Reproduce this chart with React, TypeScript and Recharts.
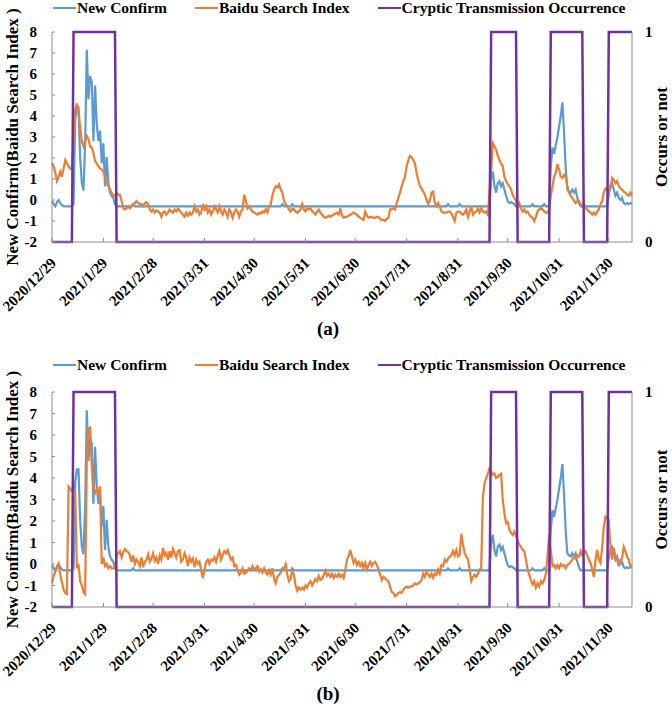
import React from 'react';
import { LineChart, Line, XAxis, YAxis, Legend } from 'recharts';

// x positions are days counted from 2020/12/29
const tickDays = [0, 31, 61, 92, 122, 153, 183, 214, 245, 275, 306, 336];
const tickLabels = [
  '2020/12/29', '2021/1/29', '2021/2/28', '2021/3/31', '2021/4/30', '2021/5/31',
  '2021/6/30', '2021/7/31', '2021/8/31', '2021/9/30', '2021/10/31', '2021/11/30',
];

const seriesNames = ['New Confirm', 'Baidu Search Index', 'Cryptic Transmission Occurrence'];

// daily standardised values, day 0 .. 350
const newConfirm = [
  -0.05, -0.2, -0.3, -0.1, 0, -0.15, -0.25, -0.3, -0.3, -0.3,
  -0.3, -0.3, -0.3, -0.2, 3.8, 4.4, 4.4, 2, 0.8, 0.45,
  2.7, 7.15, 4.8, 5.9, 5.6, 2.8, 5.45, 3.6, 2.8, 3.3,
  1.75, 2.7, 0.65, 2.05, 0.8, 0.35, 0.2, 0.1, -0.2, -0.3,
  -0.3, -0.3, -0.3, -0.3, -0.3, -0.3, -0.3, -0.3, -0.3, -0.2,
  -0.3, -0.3, -0.3, -0.3, -0.3, -0.3, -0.3, -0.3, -0.3, -0.3,
  -0.3, -0.3, -0.3, -0.3, -0.3, -0.3, -0.3, -0.3, -0.3, -0.3,
  -0.3, -0.3, -0.3, -0.3, -0.3, -0.3, -0.3, -0.3, -0.3, -0.3,
  -0.3, -0.3, -0.3, -0.3, -0.3, -0.3, -0.3, -0.3, -0.3, -0.3,
  -0.3, -0.3, -0.3, -0.3, -0.3, -0.3, -0.3, -0.3, -0.3, -0.3,
  -0.3, -0.3, -0.3, -0.3, -0.3, -0.3, -0.3, -0.3, -0.3, -0.3,
  -0.3, -0.3, -0.3, -0.3, -0.3, -0.3, -0.3, -0.3, -0.3, -0.3,
  -0.3, -0.3, -0.3, -0.3, -0.3, -0.3, -0.3, -0.3, -0.3, -0.3,
  -0.3, -0.3, -0.3, -0.3, -0.3, -0.3, -0.3, -0.3, -0.3, -0.2,
  -0.3, -0.3, -0.3, -0.3, -0.3, -0.2, -0.3, -0.3, -0.3, -0.3,
  -0.3, -0.3, -0.3, -0.3, -0.3, -0.3, -0.3, -0.3, -0.3, -0.3,
  -0.3, -0.3, -0.3, -0.3, -0.3, -0.3, -0.3, -0.3, -0.3, -0.3,
  -0.3, -0.3, -0.3, -0.3, -0.3, -0.3, -0.3, -0.3, -0.3, -0.3,
  -0.3, -0.3, -0.3, -0.3, -0.3, -0.3, -0.3, -0.3, -0.3, -0.3,
  -0.3, -0.3, -0.3, -0.3, -0.3, -0.3, -0.3, -0.3, -0.3, -0.3,
  -0.3, -0.3, -0.3, -0.3, -0.3, -0.3, -0.3, -0.3, -0.3, -0.3,
  -0.3, -0.3, -0.3, -0.3, -0.3, -0.3, -0.3, -0.3, -0.3, -0.3,
  -0.3, -0.3, -0.3, -0.3, -0.3, -0.3, -0.3, -0.3, -0.3, -0.3,
  -0.3, -0.3, -0.3, -0.3, -0.3, -0.3, -0.3, -0.3, -0.3, -0.2,
  -0.3, -0.3, -0.3, -0.3, -0.3, -0.3, -0.2, -0.3, -0.3, -0.3,
  -0.3, -0.3, -0.3, -0.3, -0.3, -0.3, -0.3, -0.3, -0.3, -0.3,
  -0.3, -0.3, -0.3, -0.3, -0.3, 1, 1.35, 0.65, 0.35, 0.8,
  0.9, 0.65, 0.8, 0.5, 0.2, -0.05, -0.15, -0.1, -0.15, -0.2,
  -0.3, -0.3, -0.3, -0.3, -0.3, -0.3, -0.3, -0.3, -0.3, -0.3,
  -0.2, -0.3, -0.3, -0.3, -0.3, -0.3, -0.3, -0.2, -0.3, -0.3,
  -0.3, 1.6, 2.5, 2.2, 2.6, 3, 3.5, 4, 4.65, 3.2,
  1.5, 0.5, 0.4, 0.35, 0.5, 0.35, 0.5, 0.1, -0.15, -0.3,
  -0.3, -0.3, -0.3, -0.3, -0.3, -0.3, -0.3, -0.3, -0.3, -0.3,
  -0.3, -0.3, -0.3, -0.3, -0.3, -0.3, 0.3, 0.7, 0.8, 0.5,
  0.2, 0.35, 0.1, 0, 0.1, -0.15, -0.2, -0.15, -0.2, -0.15,
  -0.15,
];

const baiduA = [
  1.76, 1.6, 1.3, 0.9, 1.1, 1.35, 1.1, 1.5, 1.9, 1.75,
  1.6, 1.5, 1.45, 2.9, 4.3, 4.6, 4.2, 3.5, 2.8, 2.55,
  2.75, 3.05, 2.9, 2.55, 2.5, 2.25, 1.85, 1.75, 1.6, 1.5,
  1.45, 1.35, 1.1, 0.8, 0.65, 0.5, 0.35, 0.2, 0.2, 0.35,
  0.25, 0.25, -0.05, -0.4, -0.45, -0.4, -0.3, -0.4, -0.3, -0.2,
  -0.15, -0.05, -0.15, -0.2, -0.2, -0.3, -0.15, -0.1, -0.2, -0.45,
  -0.55, -0.45, -0.6, -0.5, -0.55, -0.6, -0.8, -0.6, -0.55, -0.7,
  -0.6, -0.45, -0.55, -0.6, -0.45, -0.55, -0.4, -0.5, -0.6, -0.7,
  -0.8, -0.6, -0.75, -0.6, -0.7, -0.6, -0.3, -0.55, -0.45, -0.7,
  -0.6, -0.2, -0.45, -0.3, -0.6, -0.45, -0.7, -0.55, -0.3, -0.45,
  -0.6, -0.3, -0.55, -0.7, -0.45, -0.6, -0.8, -0.45, -0.6, -0.85,
  -0.6, -0.45, -0.55, -0.8, -0.55, -0.45, 0.25, -0.05, -0.4, -0.3,
  -0.45, -0.55, -0.6, -0.65, -0.7, -0.6, -0.65, -0.55, -0.6, -0.45,
  -0.6, -0.3, -0.2, 0.2, 0.5, 0.65, 0.6, 0.75, 0.5, 0.35,
  -0.05, -0.2, -0.3, -0.45, -0.55, -0.4, -0.45, -0.55, -0.6, -0.55,
  -0.45, -0.2, -0.45, -0.55, -0.4, -0.45, -0.4, -0.55, -0.6, -0.7,
  -0.55, -0.45, -0.6, -0.7, -0.8, -0.85, -0.8, -0.75, -0.8, -0.75,
  -0.7, -0.65, -0.6, -0.7, -0.4, -0.75, -0.85, -0.8, -0.8, -0.75,
  -0.7, -0.65, -0.6, -0.65, -0.7, -0.8, -0.85, -0.9, -0.95, -0.55,
  -0.75, -0.85, -0.8, -0.8, -0.85, -0.85, -0.8, -0.8, -0.9, -0.95,
  -0.95, -1.0, -0.9, -0.85, -0.45, -0.45, -0.4, -0.45, -0.15, 0.1,
  0.35, 0.65, 0.9, 1.1, 1.6, 1.9, 2.1, 2.05, 1.9, 1.75,
  1.3, 0.95, 0.65, 0.55, 0.4, 0.25, 0, -0.2, -0.05, 0.35,
  0.4, -0.15, -0.3, -0.15, -0.3, -0.55, -0.6, -0.6, -0.6, -0.55,
  -0.55, -0.65, -0.8, -1.0, -0.6, -0.55, -0.55, -0.65, -0.7, -0.6,
  -0.45, -0.8, -0.55, -0.3, -0.7, -0.6, -0.55, -0.4, -0.6, -0.4,
  -0.55, -0.6, -0.55, -0.7, 0.35, 1.45, 2.7, 2.55, 2.4, 2.1,
  1.9, 1.75, 1.6, 1.1, 0.9, 0.75, 0.65, 0.5, 0.25, 0.1,
  -0.05, -0.3, -0.15, -0.4, -0.55, -0.45, -0.6, -0.55, -0.7, -0.8,
  -0.85, -1.0, -0.8, -0.55, -0.45, -0.4, -0.45, -0.55, -0.6, -0.6,
  -0.45, 0.2, 0.65, 1.1, 1.3, 1.7, 1.45, 1.1, 1.05, 1.2,
  1.1, 0.65, 0.35, 0.2, 0.1, -0.05, -0.15, -0.05, -0.05, -0.2,
  -0.3, -0.15, -0.4, -0.45, -0.55, -0.6, -0.7, -0.6, -0.7, -0.55,
  -0.45, -0.2, -0.05, 0.35, 0.55, 0.5, 0.35, 0.55, 1.05, 0.95,
  0.8, 0.9, 0.65, 0.55, 0.5, 0.4, 0.35, 0.25, 0.2, 0.35,
  0.2,
];

const baiduB = [
  -0.9, -0.55, -0.35, -0.2, 0, -0.5, -0.85, -1.2, -1.35, -1.4,
  3.6, 3.5, 3.4, 3.3, 3.3, -0.2, 0, -0.8, -1.0, -1.3,
  -1.4, 4.8, 6.3, 6.35, 4.5, 3.5, 3.3, 3.5, 3.3, 3.6,
  0, 0.3, -0.1, 0, -0.2, -0.1, -0.2, -0.2, -0.2, 0.4,
  0.5, 0.6, 0.3, 0.55, 0.7, 0.6, 0.55, 0.4, 0.1, 0.4,
  0, 0.2, 0.1, -0.1, 0.3, -0.15, 0.1, 0.2, 0.45, 0.1,
  0.25, 0.5, 0.15, 0.3, 0, 0.4, 0.2, 0.75, 0.4, 0.5,
  0.2, 0.6, 0.3, 0.7, 0.5, 0.3, 0.6, 0.65, 0.1, 0.2,
  0.5, 0.3, -0.1, 0.3, 0.1, 0.25, -0.15, 0.2, 0, 0.1,
  -0.3, -0.65, -0.3, 0.1, 0.2, 0, 0.2, 0.15, 0.3, 0.1,
  0.4, 0.6, 0.2, 0.4, 0.6, 0.5, 0.65, 0.4, 0.2, 0.3,
  -0.1, -0.05, -0.3, -0.5, -0.4, -0.2, -0.45, -0.4, -0.3, -0.2,
  -0.3, -0.1, -0.25, -0.2, -0.1, -0.35, -0.25, -0.4, -0.2, -0.4,
  -0.5, -0.3, -0.5, -0.2, -0.7, -0.9, -0.6, -0.5, -0.4, -0.3,
  -0.2, 0, -0.5, -0.8, -0.7, -0.3, -0.5, -1.0, -1.25, -1.1,
  -1.2, -1.1, -1.2, -1.0, -1.1, -0.9, -0.8, -1.0, -0.85, -0.7,
  -0.8, -0.55, -0.75, -0.7, -0.5, -0.3, -0.55, -0.45, -0.6, -0.45,
  -0.65, -0.5, -0.6, -0.45, -0.6, -0.5, -0.65, -0.25, 0.2, 0.35,
  0.65, 0.35, 0.05, 0.2, -0.05, 0.1, -0.1, 0.05, -0.2, 0.05,
  -0.25, -0.05, 0.1, -0.1, 0.05, 0.1, -0.05, -0.25, -0.5, -0.75,
  -0.6, -0.65, -0.75, -0.8, -1.05, -1.3, -1.35, -1.5, -1.45, -1.35,
  -1.3, -1.35, -1.2, -1.1, -1.05, -1.1, -1.05, -1.05, -1.0, -0.9,
  -0.95, -0.9, -0.85, -0.75, -0.45, -0.6, -0.35, -0.5, -0.6, -0.45,
  -0.65, -0.45, -0.5, -0.25, -0.45, -0.05, -0.1, 0.2, 0.1, 0.25,
  0.35, 0.4, 0.6, 0.4, 0.65, 0.35, 0.4, 1.4, 0.9, 0.5,
  0.35, 0.2, -0.25, -0.8, -0.6, -0.5, -0.6, -0.45, -0.25, -0.2,
  3.1, 3.75, 4.0, 4.2, 4.45, 4.3, 4.15, 4.2, 4.0, 4.05,
  4.15, 4.2, 3.0, 2.35, 1.9, 1.95, 1.6, 1.45, 1.35, 1.5,
  1.3, 1.1, 0.9, 0.8, 0.65, 0.6, 0.2, -0.25, -0.5, -0.75,
  -0.95, -0.8, -1.1, -0.9, -1.05, -0.8, -0.9, -0.75, -0.45, 0.35,
  1.35, 0.65, -0.1, -0.05, -0.2, -0.05, -0.2, 0, -0.1, -0.05,
  -0.2, -0.05, 0, 0.1, 0.2, 0.35, 0.25, 0.4, 0.35, 0.6,
  0.4, 0.5, 0.6, 0.4, 0.2, 0.05, -0.25, -0.6, 0.2, 0.65,
  0.2, 0.05, 0.8, 1.75, 2.2, 2.15, 2.05, 0.8, 0.2, 0.75,
  0.35, 0.2, -0.1, 0.2, 0.25, 0.8, 0.6, 0.35, 0.2, -0.1,
  -0.05,
];

// cryptic transmission occurrence (0/1) switch points
const crypticDays = [0, 12, 13, 38, 39, 264, 265, 280, 281, 300, 301, 320, 321, 335, 336, 350];
const crypticValues = [0, 0, 1, 1, 0, 0, 1, 1, 0, 0, 1, 1, 0, 0, 1, 1];

const BLUE = '#5B9BD5';
const ORANGE = '#ED7D31';
const PURPLE = '#7030A0';
const AXIS = '#8c8c8c';
const FONT = '"Liberation Serif", "Times New Roman", serif';

const crypticData = crypticDays.map((day, i) => ({ day, occur: crypticValues[i] }));

const DateTick = (props: any) => {
  const { x, y, payload } = props;
  const ax = x + 5;
  const ay = y + 24;
  return (
    <text x={ax} y={ay} textAnchor="end" transform={`rotate(-45 ${ax} ${ay})`}
      fontSize={15} fontWeight={700} fill="#000" fontFamily={FONT}>
      {tickLabels[tickDays.indexOf(payload.value)]}
    </text>
  );
};

const AxisTitle = (props: any) => {
  const { viewBox, value, dx, dy, size } = props;
  const cx = viewBox.x + dx;
  const cy = viewBox.y + viewBox.height / 2 + dy;
  return (
    <text x={cx} y={cy} textAnchor="middle" dominantBaseline="central"
      transform={`rotate(-90 ${cx} ${cy})`} fontSize={size} fontWeight={700} fill="#000" fontFamily={FONT}>
      {value}
    </text>
  );
};

const LegendRow = ({ payload }: any) => {
  const items = [...(payload || [])].sort(
    (a: any, b: any) => seriesNames.indexOf(a.value) - seriesNames.indexOf(b.value),
  );
  return (
    <div style={{ display: 'flex', alignItems: 'center', fontFamily: FONT, fontSize: 15.5, fontWeight: 700, lineHeight: '15px', whiteSpace: 'nowrap', color: '#000' }}>
      {items.map((item: any, i: number) => (
        <div key={item.value} style={{ display: 'flex', alignItems: 'center', marginRight: i < 2 ? 28 : 0 }}>
          <span style={{ display: 'inline-block', width: 23, borderTop: `2.5px solid ${item.color}` }} />
          <span style={{ marginLeft: 1 }}>{item.value}</span>
        </div>
      ))}
    </div>
  );
};

interface PanelProps {
  baidu: number[];
  height: number;
  top: number;
  bottom: number;
  legendTop: number;
  caption: string;
  captionTop: number;
}

const Panel: React.FC<PanelProps> = ({ baidu, height, top, bottom, legendTop, caption, captionTop }) => {
  const rows = newConfirm.map((v, day) => ({ day, confirm: v, baidu: baidu[day] }));
  return (
    <div style={{ position: 'relative', width: 672, height }}>
      <LineChart width={672} height={height} data={rows} margin={{ top, right: 10, bottom, left: 12 }}>
        <XAxis dataKey="day" type="number" domain={[0, 350]} ticks={tickDays} interval={0}
          height={60} tickSize={-4} tickMargin={2} tick={<DateTick />}
          axisLine={{ stroke: AXIS }} tickLine={{ stroke: AXIS }} />
        <YAxis yAxisId="left" domain={[-2, 8]} ticks={[-2, -1, 0, 1, 2, 3, 4, 5, 6, 7, 8]} interval={0}
          width={40} tickSize={-3} tickMargin={18}
          tick={{ fill: '#000', fontSize: 15, fontWeight: 700, fontFamily: FONT }}
          axisLine={{ stroke: AXIS }} tickLine={{ stroke: AXIS }}
          label={{ value: 'New Confirm(Baidu Search Index )', content: (p: any) => <AxisTitle {...p} value="New Confirm(Baidu Search Index )" dx={0} dy={0} size={17} /> }} />
        <YAxis yAxisId="right" orientation="right" domain={[0, 1]} ticks={[0, 1]} interval={0}
          width={30} tickSize={0} tickMargin={13} tickLine={false}
          tick={{ fill: '#000', fontSize: 15, fontWeight: 700, fontFamily: FONT }}
          axisLine={{ stroke: AXIS }}
          label={{ value: 'Occurs or not', content: (p: any) => <AxisTitle {...p} value="Occurs or not" dx={29} dy={0} size={17} /> }} />
        <Legend layout="vertical" align="center" verticalAlign="middle"
          wrapperStyle={{ top: legendTop, left: 53, width: 'auto' }} content={<LegendRow />} />
        <Line yAxisId="left" dataKey="confirm" name="New Confirm" stroke={BLUE} strokeWidth={2.2}
          dot={false} activeDot={false} type="linear" isAnimationActive={false} />
        <Line yAxisId="left" dataKey="baidu" name="Baidu Search Index" stroke={ORANGE} strokeWidth={2.2}
          dot={false} activeDot={false} type="linear" isAnimationActive={false} />
        <Line yAxisId="right" data={crypticData} dataKey="occur" name="Cryptic Transmission Occurrence"
          stroke={PURPLE} strokeWidth={2.5} dot={false} activeDot={false} type="linear" isAnimationActive={false} />
      </LineChart>
      <div style={{ position: 'absolute', left: 0, width: 656, top: captionTop, textAlign: 'center',
        fontFamily: FONT, fontSize: 19, fontWeight: 700, lineHeight: '20px', color: '#000' }}>
        {caption}
      </div>
    </div>
  );
};

export default function App() {
  return (
    <div style={{ position: 'absolute', left: 0, top: 0, width: 672, height: 706, background: '#fff', fontFamily: FONT }}>
      <Panel baidu={baiduA} height={350} top={32} bottom={48} legendTop={0} caption="(a)" captionTop={319} />
      <Panel baidu={baiduB} height={356} top={42} bottom={39} legendTop={7} caption="(b)" captionTop={334} />
    </div>
  );
}
